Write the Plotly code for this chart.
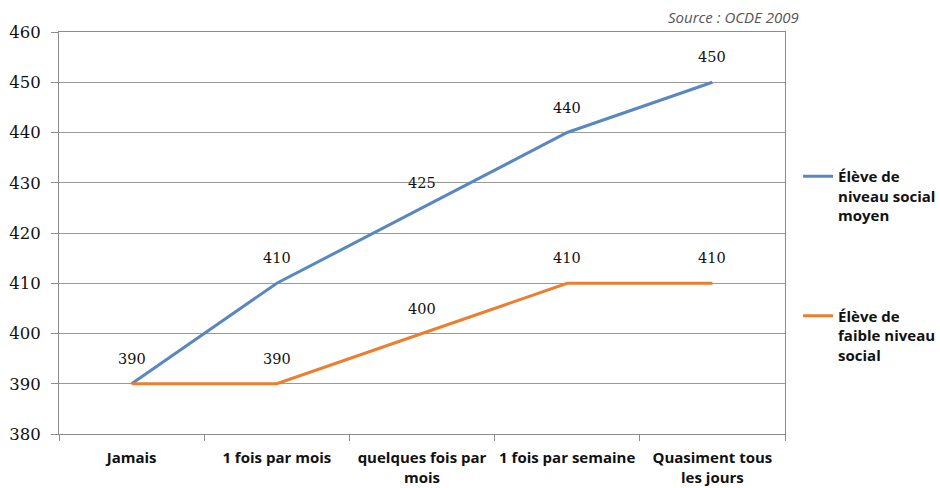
import plotly.graph_objects as go

categories = ["Jamais", "1 fois par mois", "quelques fois par<br>mois", "1 fois par semaine", "Quasiment tous<br>les jours"]
moyen = [390, 410, 425, 440, 450]
faible = [390, 390, 400, 410, 410]
name_moyen = "Élève de<br>niveau social<br>moyen"
name_faible = "Élève de<br>faible niveau<br>social"
y_ticks = [380, 390, 400, 410, 420, 430, 440, 450, 460]

blue = "#5A87C0"
orange = "#EC7E2E"
serif = "DejaVu Serif"
sans = "Open Sans"

fig = go.Figure()
fig.add_trace(go.Scatter(x=categories, y=moyen, mode="lines", name=name_moyen,
                         line=dict(color=blue, width=3), legendgroup="a"))
fig.add_trace(go.Scatter(x=categories, y=faible, mode="lines", name=name_faible,
                         line=dict(color=orange, width=3), legendgroup="b"))

# data labels (one label when both series share the same point)
for c, v in zip(categories, moyen):
    fig.add_annotation(x=c, y=v, text=str(v), showarrow=False, yshift=25,
                       font=dict(family=serif, size=14.5, color="#111"))
for c, v, m in zip(categories, faible, moyen):
    if v == m:
        continue
    fig.add_annotation(x=c, y=v, text=str(v), showarrow=False, yshift=25,
                       font=dict(family=serif, size=14.5, color="#111"))

fig.add_annotation(xref="paper", yref="paper", x=1.022, y=1.0, xanchor="right", yanchor="bottom",
                   yshift=3, text="<i>Source : OCDE 2009</i>", showarrow=False,
                   font=dict(family=sans, size=15, color="#555"))

fig.update_layout(
    width=940, height=488,
    margin=dict(l=59, r=155, t=32, b=54),
    paper_bgcolor="white", plot_bgcolor="white",
    showlegend=True,
    legend=dict(xref="container", yref="container", x=0.849, xanchor="left",
                y=1 - 160 / 488, yanchor="top", valign="top",
                bgcolor="rgba(0,0,0,0)",
                font=dict(family=sans, size=15, color="#111", weight="bold"), tracegroupgap=78,
                itemwidth=30),
)
fig.update_xaxes(type="category", range=[-0.5, 4.5], showgrid=False, showline=True,
                 linecolor="#8C8C8C", linewidth=1, automargin=False, tickangle=0,
                 ticks="outside", tickson="boundaries", ticklen=6, tickcolor="#8C8C8C",
                 mirror=True, tickfont=dict(family=sans, size=15, color="#111", weight="bold"),
                 ticklabelstandoff=10)
fig.update_yaxes(range=[380, 460], tickvals=y_ticks, showgrid=True, gridcolor="#9A9A9A", gridwidth=1,
                 showline=True, linecolor="#8C8C8C", linewidth=1, mirror=True, automargin=False,
                 ticks="outside", ticklen=7, tickcolor="#8C8C8C", zeroline=False,
                 ticklabelstandoff=7,
                 tickfont=dict(family=serif, size=16.5, color="#111"))

fig.write_html("out.html", config={"displayModeBar": False},
               post_script="document.body.style.margin='0';")
